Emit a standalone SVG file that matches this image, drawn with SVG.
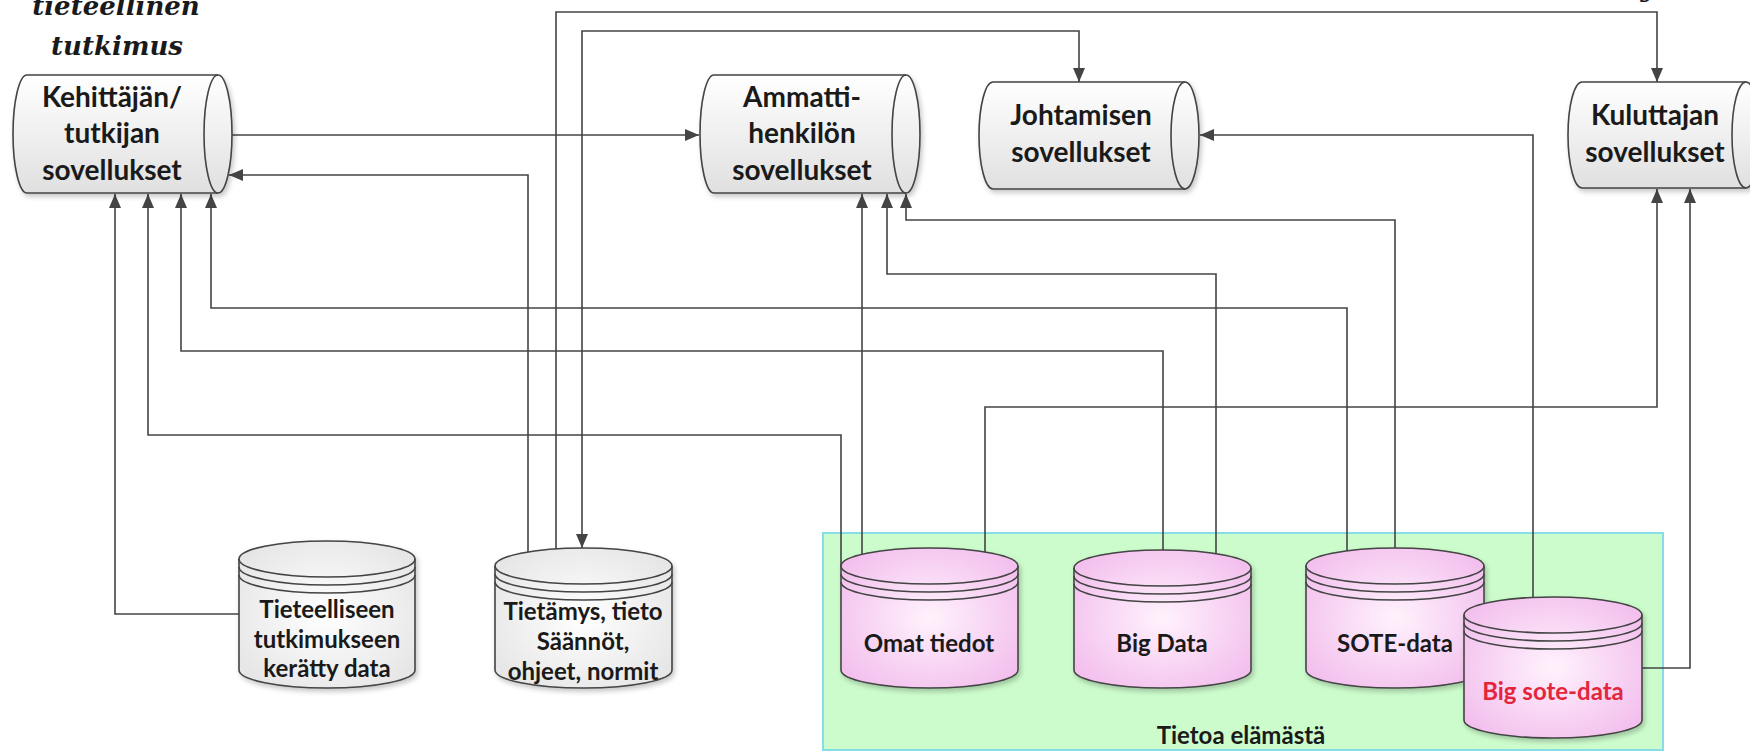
<svg xmlns="http://www.w3.org/2000/svg" width="1750" height="752" viewBox="0 0 1750 752">
<style>
.lbl{font-family:Lato,"Liberation Sans",sans-serif;font-weight:bold;fill:#1a1a1a;text-anchor:middle}
.big{font-size:28px}
.sm{font-size:24px}
.ttl{font-family:"DejaVu Serif","Liberation Serif",serif;font-weight:bold;font-style:italic;font-size:26px;fill:#1a1a1a;text-anchor:middle}
.edge{fill:none;stroke:#444;stroke-width:1.6;stroke-linejoin:miter}
.hcyl{fill:url(#gH);stroke:#444;stroke-width:1.6}
.gcyl{fill:url(#gG);stroke:#444;stroke-width:1.6}
.pcyl{fill:url(#gP);stroke:#444;stroke-width:1.6}
.rim{fill:none;stroke:#444;stroke-width:1.6}
</style>
<defs>
<linearGradient id="gH" x1="0" y1="0" x2="0" y2="1"><stop offset="0" stop-color="#ffffff"/><stop offset="1" stop-color="#e0e0e0"/></linearGradient>
<radialGradient id="gG" cx="0.5" cy="0.5" r="0.6"><stop offset="0" stop-color="#ffffff"/><stop offset="1" stop-color="#e6e6e6"/></radialGradient>
<radialGradient id="gP" cx="0.5" cy="0.5" r="0.6"><stop offset="0" stop-color="#fff2fc"/><stop offset="1" stop-color="#f3c0ee"/></radialGradient>
<filter id="sh" x="-10%" y="-10%" width="130%" height="130%"><feDropShadow dx="2" dy="3" stdDeviation="2.5" flood-color="#000" flood-opacity="0.22"/></filter>
<marker id="arr" viewBox="0 0 14 12" refX="14" refY="6" markerWidth="14" markerHeight="12" orient="auto-start-reverse" markerUnits="userSpaceOnUse"><path d="M0,0 L14,6 L0,12 z" fill="#444"/></marker>
</defs>
<rect width="1750" height="752" fill="#ffffff"/>

<g id="title">
<text class="ttl" x="116" y="15">tieteellinen</text>
<text class="ttl" x="117" y="55">tutkimus</text>
<text class="ttl" x="1648" y="-3">y</text>
</g>

<g id="tietoa-elamasta">
<rect x="823" y="533" width="840" height="217" fill="#ccfccc" stroke="#86dde6" stroke-width="2"/>
<text class="lbl sm" x="1241" y="744">Tietoa elämästä</text>
</g>

<g id="connectors">
<path class="edge" d="M232,135 H699" marker-end="url(#arr)"/>
<path class="edge" d="M528,552 V175 H229" marker-end="url(#arr)"/>
<path class="edge" d="M556,549 V12 H1657 V82" marker-end="url(#arr)"/>
<path class="edge" d="M582,548 V31 H1079 V82" marker-start="url(#arr)" marker-end="url(#arr)"/>
<path class="edge" d="M239,614 H115 V194" marker-end="url(#arr)"/>
<path class="edge" d="M841,566 V435 H148 V194" marker-end="url(#arr)"/>
<path class="edge" d="M1163,550 V351 H181 V194" marker-end="url(#arr)"/>
<path class="edge" d="M1347,551 V308 H211 V194" marker-end="url(#arr)"/>
<path class="edge" d="M862,554 V194" marker-end="url(#arr)"/>
<path class="edge" d="M1216,554 V274 H887 V194" marker-end="url(#arr)"/>
<path class="edge" d="M1395,548 V220 H906 V194" marker-end="url(#arr)"/>
<path class="edge" d="M1533,598 V135 H1200" marker-end="url(#arr)"/>
<path class="edge" d="M985,552 V407 H1657 V189" marker-end="url(#arr)"/>
<path class="edge" d="M1642,668 H1690 V189" marker-end="url(#arr)"/>
</g>

<g id="kehittajan">
<path class="hcyl" filter="url(#sh)" d="M27,75 H218 A14,59 0 0 1 218,193 H27 A14,59 0 0 1 27,75 Z"/>
<path class="rim" d="M218,75 A14,59 0 0 0 218,193"/>
<text class="lbl big" x="112" y="107">Kehittäjän/</text>
<text class="lbl big" x="112" y="143">tutkijan</text>
<text class="lbl big" x="112" y="180">sovellukset</text>
</g>

<g id="ammatti">
<path class="hcyl" filter="url(#sh)" d="M714,75 H906 A14,59 0 0 1 906,193 H714 A14,59 0 0 1 714,75 Z"/>
<path class="rim" d="M906,75 A14,59 0 0 0 906,193"/>
<text class="lbl big" x="802" y="107">Ammatti-</text>
<text class="lbl big" x="802" y="143">henkilön</text>
<text class="lbl big" x="802" y="180">sovellukset</text>
</g>

<g id="johtamisen">
<path class="hcyl" filter="url(#sh)" d="M993,82 H1185 A14,53.5 0 0 1 1185,189 H993 A14,53.5 0 0 1 993,82 Z"/>
<path class="rim" d="M1185,82 A14,53.5 0 0 0 1185,189"/>
<text class="lbl big" x="1081" y="125">Johtamisen</text>
<text class="lbl big" x="1081" y="162">sovellukset</text>
</g>

<g id="kuluttajan">
<path class="hcyl" filter="url(#sh)" d="M1582,82 H1746 A14,53 0 0 1 1746,188 H1582 A14,53 0 0 1 1582,82 Z"/>
<path class="rim" d="M1746,82 A14,53 0 0 0 1746,188"/>
<text class="lbl big" x="1655" y="125">Kuluttajan</text>
<text class="lbl big" x="1655" y="162">sovellukset</text>
</g>

<g id="tieteelliseen">
<path class="gcyl" filter="url(#sh)" d="M239,559 A88,18 0 0 1 415,559 V670 A88,18 0 0 1 239,670 Z"/>
<path class="rim" d="M239,559 A88,18 0 0 0 415,559 M239,567 A88,18 0 0 0 415,567 M239,575 A88,18 0 0 0 415,575"/>
<text class="lbl sm" x="327" y="618">Tieteelliseen</text>
<text class="lbl sm" x="327" y="648">tutkimukseen</text>
<text class="lbl sm" x="327" y="677">kerätty data</text>
</g>

<g id="tietamys">
<path class="gcyl" filter="url(#sh)" d="M495,566 A88.5,18 0 0 1 672,566 V670 A88.5,18 0 0 1 495,670 Z"/>
<path class="rim" d="M495,566 A88.5,18 0 0 0 672,566 M495,574 A88.5,18 0 0 0 672,574 M495,582 A88.5,18 0 0 0 672,582"/>
<text class="lbl sm" x="583" y="620">Tietämys, tieto</text>
<text class="lbl sm" x="583" y="650">Säännöt,</text>
<text class="lbl sm" x="583" y="680">ohjeet, normit</text>
</g>

<g id="omat-tiedot">
<path class="pcyl" filter="url(#sh)" d="M841,566 A88.5,18 0 0 1 1018,566 V670 A88.5,18 0 0 1 841,670 Z"/>
<path class="rim" d="M841,566 A88.5,18 0 0 0 1018,566 M841,574 A88.5,18 0 0 0 1018,574 M841,582 A88.5,18 0 0 0 1018,582"/>
<text class="lbl sm" x="929" y="652">Omat tiedot</text>
</g>

<g id="big-data">
<path class="pcyl" filter="url(#sh)" d="M1074,568 A88.5,18 0 0 1 1251,568 V670 A88.5,18 0 0 1 1074,670 Z"/>
<path class="rim" d="M1074,568 A88.5,18 0 0 0 1251,568 M1074,576 A88.5,18 0 0 0 1251,576 M1074,584 A88.5,18 0 0 0 1251,584"/>
<text class="lbl sm" x="1162" y="652">Big Data</text>
</g>

<g id="sote-data">
<path class="pcyl" filter="url(#sh)" d="M1306,566 A89,18 0 0 1 1484,566 V670 A89,18 0 0 1 1306,670 Z"/>
<path class="rim" d="M1306,566 A89,18 0 0 0 1484,566 M1306,574 A89,18 0 0 0 1484,574 M1306,582 A89,18 0 0 0 1484,582"/>
<text class="lbl sm" x="1395" y="652">SOTE-data</text>
</g>

<g id="big-sote-data">
<path class="pcyl" filter="url(#sh)" d="M1464,615 A89,18 0 0 1 1642,615 V720 A89,18 0 0 1 1464,720 Z"/>
<path class="rim" d="M1464,615 A89,18 0 0 0 1642,615 M1464,623 A89,18 0 0 0 1642,623 M1464,631 A89,18 0 0 0 1642,631"/>
<text class="lbl sm" x="1553" y="700" style="fill:#e3263c">Big sote-data</text>
</g>
</svg>
